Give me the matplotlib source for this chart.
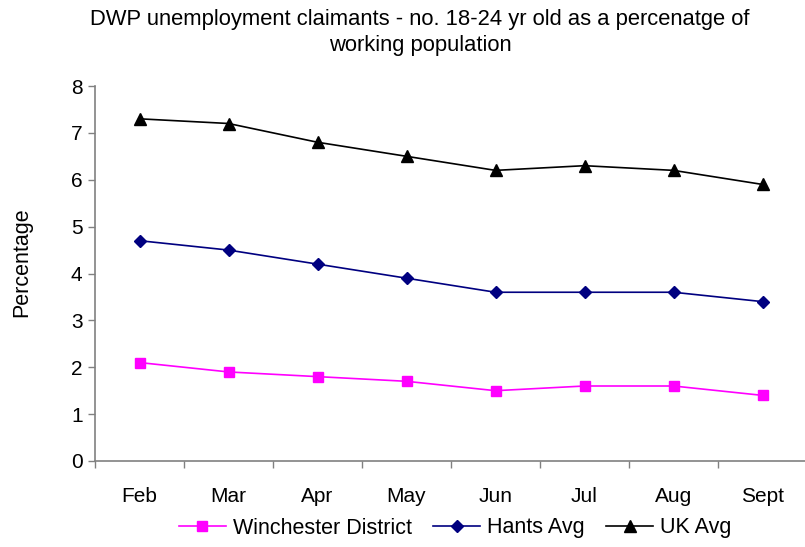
import matplotlib
matplotlib.use("Agg")
import matplotlib.pyplot as plt
import numpy as np

plt.rcParams["font.family"] = ["Liberation Sans", "DejaVu Sans"]

months = ["Feb", "Mar", "Apr", "May", "Jun", "Jul", "Aug", "Sept"]
winchester = [2.1, 1.9, 1.8, 1.7, 1.5, 1.6, 1.6, 1.4]
hants = [4.7, 4.5, 4.2, 3.9, 3.6, 3.6, 3.6, 3.4]
uk = [7.3, 7.2, 6.8, 6.5, 6.2, 6.3, 6.2, 5.9]

W, H = 805, 547
fig = plt.figure(figsize=(W / 100, H / 100), dpi=100, facecolor="white")
ax = fig.add_axes([95 / W, 1 - 461 / H, 712 / W, 375 / H])

x = np.arange(len(months))
ax.plot(x, winchester, color="#FF00FF", marker="s", markersize=7, lw=1.2,
        label="Winchester District")
ax.plot(x, hants, color="#000080", marker="D", markersize=6, lw=1.2,
        label="Hants Avg")
ax.plot(x, uk, color="black", marker="^", markersize=8, lw=1.2,
        label="UK Avg")

ax.set_xlim(-0.5, len(months) - 0.5)
ax.set_ylim(0, 8)
ax.set_yticks(range(0, 9))
ax.set_xticks(x)
ax.set_xticklabels(months)
ax.set_xticks(np.arange(-0.5, len(months), 1), minor=True)
ax.tick_params(axis="x", which="major", length=0, pad=19, labelsize=15)
ax.tick_params(axis="x", which="minor", length=5, color="#808080", width=1)
ax.tick_params(axis="y", length=5, color="#808080", width=1, pad=4, labelsize=15)

for s in ["top", "right"]:
    ax.spines[s].set_visible(False)
for s in ["left", "bottom"]:
    ax.spines[s].set_color("#808080")
    ax.spines[s].set_linewidth(1.2)
ax.spines["bottom"].set_clip_on(False)

ax.set_ylabel("Percentage", fontsize=15.5, labelpad=28)
ax.yaxis.label.set_y(0.53)

fig.text(0.522, 1 - 20 / H,
         "DWP unemployment claimants - no. 18-24 yr old as a percenatge of",
         ha="center", va="center", fontsize=15.8)
fig.text(0.522, 1 - 45 / H, "working population",
         ha="center", va="center", fontsize=15.8)

fig.legend(loc="center", bbox_to_anchor=(455 / W, 1 - 528 / H), ncol=3,
           frameon=False, fontsize=15.5, handlelength=2.2, handletextpad=0.3,
           columnspacing=1.0)

fig.savefig("out.png", dpi=100, facecolor="white")
